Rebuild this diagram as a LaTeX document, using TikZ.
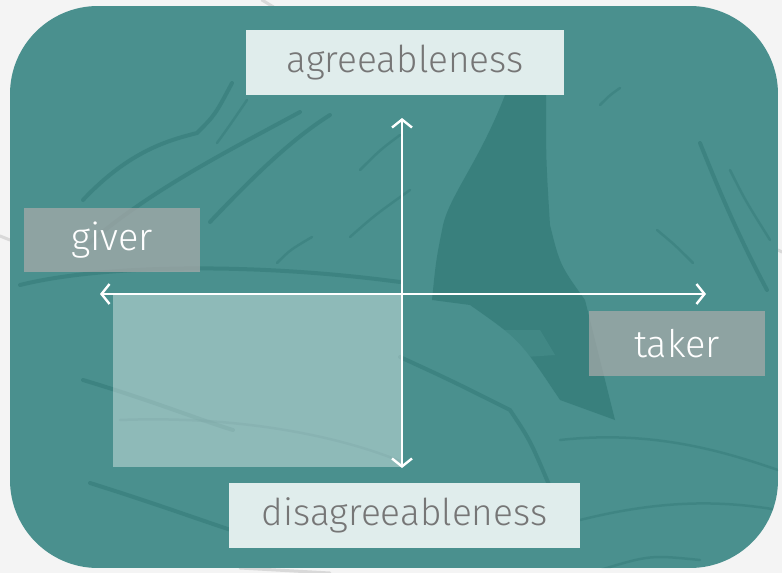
\documentclass[tikz,border=0pt]{standalone}
\usepackage{fontspec}
\setmainfont{Fira Sans}[UprightFont=* Light]
\usetikzlibrary{arrows.meta}
\definecolor{bgpage}{HTML}{F4F4F4}
\definecolor{teal0}{HTML}{4A908E}
\definecolor{tealdark}{HTML}{2C7370}
\definecolor{boxlight}{HTML}{E9F3F2}
\definecolor{txtgray}{HTML}{767676}
\definecolor{graybox}{HTML}{ABABAB}
\tikzset{
  sketch/.style={draw=tealdark, line width=4pt, line cap=round, opacity=0.42},
  sketchthin/.style={draw=tealdark, line width=2.5pt, line cap=round, opacity=0.35},
  outsketch/.style={draw=black!25, line width=3pt, line cap=round, opacity=0.5},
  lightlabel/.style={fill=boxlight, fill opacity=0.95, text opacity=1, text=txtgray, inner sep=0pt, font=\fontsize{37}{40}\selectfont},
  graylabel/.style={fill=graybox, fill opacity=0.71, text opacity=1, text=white, inner sep=0pt, font=\fontsize{38}{40}\selectfont},
  axis/.style={draw=white, line width=2.4pt, {Straight Barb[length=8pt,width=20pt,line width=2.4pt]}-{Straight Barb[length=8pt,width=20pt,line width=2.4pt]}}
}
\begin{document}
\begin{tikzpicture}[x=1pt,y=-1pt]
\useasboundingbox (0,0) rectangle (782,573);
\fill[bgpage] (0,0) rectangle (782,573);
% faint sketch lines outside the panel
\draw[outsketch] (262,0) -- (285,14);
\draw[outsketch] (0,236) .. controls (5,238) .. (10,240);
\draw[outsketch] (778,250) -- (782,252);
\draw[outsketch] (240,568) -- (330,573);
% main panel
\begin{scope}
\clip[rounded corners=88pt] (10,6) rectangle (778,568);
\fill[teal0] (10,6) rectangle (778,568);
% trunk
\fill[tealdark, opacity=0.55] (505,95) .. controls (480,160) and (450,195) .. (443,225)
  .. controls (436,260) .. (432,300) -- (470,305) .. controls (520,340) .. (560,400)
  -- (615,420) .. controls (600,360) .. (585,300) .. controls (560,265) .. (550,225)
  .. controls (546,160) .. (546,95) -- cycle;
\fill[teal0, opacity=0.5] (470,330) -- (540,330) -- (555,355) -- (480,360) -- cycle;
% hair strokes, left
\draw[sketch] (83,200) .. controls (130,150) and (170,140) .. (197,133) .. controls (215,115) .. (232,83);
\draw[sketchthin] (217,143) .. controls (230,125) .. (247,100);
\draw[sketch] (87,245) .. controls (150,190) and (230,150) .. (300,112);
\draw[sketch] (210,222) .. controls (250,180) and (290,140) .. (330,115);
\draw[sketchthin] (277,263) .. controls (290,250) .. (312,237);
\draw[sketchthin] (350,237) .. controls (375,215) .. (410,190);
\draw[sketchthin] (360,170) .. controls (380,150) .. (400,135);
\draw[sketch] (20,285) .. controls (100,265) and (250,262) .. (400,282);
% hair strokes, right
\draw[sketch] (700,143) .. controls (715,180) and (735,230) .. (767,290);
\draw[sketchthin] (730,170) .. controls (745,200) .. (770,240);
\draw[sketchthin] (657,230) .. controls (675,245) .. (693,263);
\draw[sketchthin] (600,105) .. controls (610,95) .. (620,88);
% face lines
\draw[sketch] (400,357) .. controls (450,380) .. (510,410) .. controls (530,440) .. (550,487);
\draw[sketch] (83,380) .. controls (150,400) and (200,420) .. (233,430);
\draw[sketchthin] (120,420) .. controls (250,415) and (350,440) .. (402,462);
\draw[sketch] (90,483) .. controls (160,505) and (200,520) .. (240,533);
\draw[sketchthin] (560,440) .. controls (650,430) and (720,450) .. (778,470);
\draw[sketchthin] (580,520) .. controls (660,500) and (720,500) .. (778,510);
\draw[sketchthin] (600,570) .. controls (650,555) .. (700,560);
\end{scope}
% highlighted quadrant
\fill[white, opacity=0.38] (113,295) rectangle (402,467);
% axes
\coordinate (L) at (100,294);
\coordinate (R) at (706,294);
\coordinate (T) at (402,118);
\coordinate (B) at (402,468);
\draw[axis] (L) -- (R);
\draw[axis] (T) -- (B);
% labels
\node[lightlabel, minimum width=318pt, minimum height=65pt] (agree) at (405,62.5) {agreeableness};
\node[lightlabel, minimum width=351pt, minimum height=65pt] (disagree) at (404.5,515.5) {disagreeableness};
\node[graylabel, minimum width=176pt, minimum height=64pt] (giver) at (112,240) {giver};
\node[graylabel, minimum width=176pt, minimum height=65pt] (taker) at (677,343.5) {taker};
\end{tikzpicture}
\end{document}
